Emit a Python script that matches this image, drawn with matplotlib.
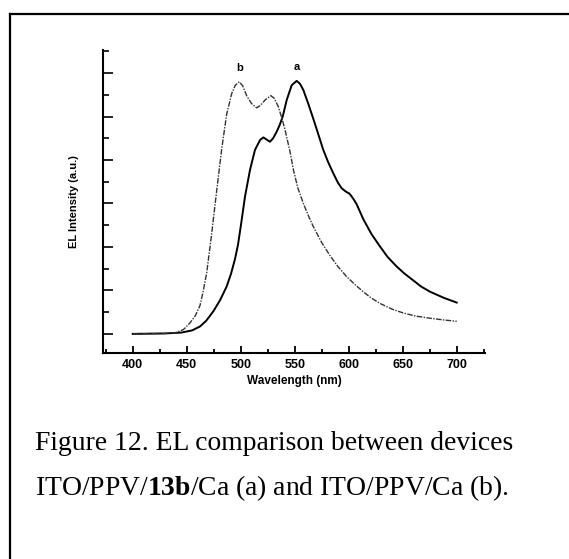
import matplotlib.pyplot as plt
from matplotlib.lines import Line2D
from matplotlib.ticker import MultipleLocator

plt.rcParams['mathtext.fontset'] = 'custom'
plt.rcParams['mathtext.rm'] = 'Liberation Serif'
plt.rcParams['mathtext.bf'] = 'Liberation Serif:bold'

# curve a: ITO/PPV/13b/Ca (solid)
wl_a = [400, 430, 445, 455, 462.3, 468, 474.7, 481, 487, 491, 494.7, 497.5, 500.5, 504,
        508.6, 513.2, 517.9, 521, 524, 527.1, 530, 533.3, 536, 538.9, 542.6, 547.2,
        551.8, 555, 558, 562.5, 567.2, 572, 576.5, 581, 585.8, 590, 593.5, 597.5,
        600.5, 602.5, 605, 607.4, 613.5, 621, 629, 636, 644.4, 652, 659.8, 667,
        675.3, 688, 700]
el_a = [0.0, 0.01, 0.03, 0.08, 0.17, 0.3, 0.52, 0.78, 1.09, 1.38, 1.72, 2.05, 2.55, 3.16,
        3.77, 4.23, 4.46, 4.52, 4.47, 4.42, 4.5, 4.65, 4.8, 5.0, 5.38, 5.72,
        5.82, 5.75, 5.61, 5.3, 4.95, 4.58, 4.23, 3.95, 3.69, 3.48, 3.35, 3.27,
        3.23, 3.17, 3.08, 2.98, 2.64, 2.3, 2.01, 1.77, 1.55, 1.38, 1.23, 1.09,
        0.97, 0.83, 0.72]

# curve b: ITO/PPV/Ca (dash-dot)
wl_b = [400, 430, 440, 447, 453, 458, 462.3, 465, 468.5, 473.1, 477.8, 482.4, 487, 491.7,
        495, 498.7, 502, 505.5, 510, 514.8, 518.5, 522.5, 528, 531, 534.8, 538, 541,
        545.6, 549, 553, 558, 563, 567.2, 575, 582.7, 590, 598, 606, 613.5, 620, 629,
        640, 650.6, 662, 675.3, 688, 700]
el_b = [0.0, 0.01, 0.03, 0.1, 0.25, 0.42, 0.65, 0.95, 1.4, 2.3, 3.3, 4.25, 5.05, 5.53,
        5.72, 5.8, 5.7, 5.48, 5.3, 5.2, 5.26, 5.38, 5.48, 5.42, 5.23, 4.97, 4.7,
        4.2, 3.75, 3.35, 3.0, 2.7, 2.47, 2.1, 1.8, 1.55, 1.32, 1.13, 0.97, 0.84, 0.7,
        0.57, 0.48, 0.41, 0.36, 0.32, 0.29]

fig = plt.figure(figsize=(5.69, 5.59), dpi=100)
ax = fig.add_axes([0.181, 0.3685, 0.671, 0.542])

ax.plot(wl_a, el_a, color='black', lw=1.4)
ax.plot(wl_b, el_b, color='#333333', lw=1.0, linestyle=(0, (4, 1, 1, 1)))

ax.text(498.7, 6.0, 'b', ha='center', va='bottom', fontsize=8, fontweight='bold',
        family='Liberation Sans')
ax.text(552, 6.02, 'a', ha='center', va='bottom', fontsize=8, fontweight='bold',
        family='Liberation Sans')

ax.set_xlim(372.5, 726)
ax.set_ylim(-0.44, 6.53)
ax.spines['top'].set_visible(False)
ax.spines['right'].set_visible(False)
for s in ('left', 'bottom'):
    ax.spines[s].set_linewidth(1.5)

ax.xaxis.set_minor_locator(MultipleLocator(25))
ax.yaxis.set_major_locator(MultipleLocator(1))
ax.yaxis.set_minor_locator(MultipleLocator(0.5))
ax.set_xticks([400, 450, 500, 550, 600, 650, 700])
ax.tick_params(axis='x', which='major', direction='in', length=5, width=1.3, pad=4)
ax.tick_params(axis='x', which='minor', direction='in', length=3, width=1.3)
ax.tick_params(axis='y', which='major', direction='in', length=7, width=1.2, labelleft=False)
ax.tick_params(axis='y', which='minor', direction='in', length=4, width=1.2)
for lb in ax.get_xticklabels():
    lb.set_family('Liberation Sans')
    lb.set_fontweight('bold')
    lb.set_fontsize(9)

ax.set_xlabel('Wavelength (nm)', family='Liberation Sans', fontweight='bold',
              fontsize=8.5, labelpad=3)
ax.set_ylabel('EL Intensity (a.u.)', family='Liberation Sans', fontweight='bold',
              fontsize=8, labelpad=14)

# page frame
fig.add_artist(Line2D([10 / 569, 10 / 569], [0, 1 - 14 / 559], color='black', lw=1.6))
fig.add_artist(Line2D([10 / 569, 1], [1 - 14 / 559, 1 - 14 / 559], color='black', lw=1.6))

fig.text(35 / 569, 1 - 443 / 559, 'Figure 12. EL comparison between devices',
         family='Liberation Serif', fontsize=19.9, va='center', ha='left')
fig.text(35 / 569, 1 - 488 / 559, r'ITO/PPV/$\mathbf{13b}$/Ca (a) and ITO/PPV/Ca (b).',
         family='Liberation Serif', fontsize=19.9, va='center', ha='left')

fig.savefig('out.png', dpi=100)
